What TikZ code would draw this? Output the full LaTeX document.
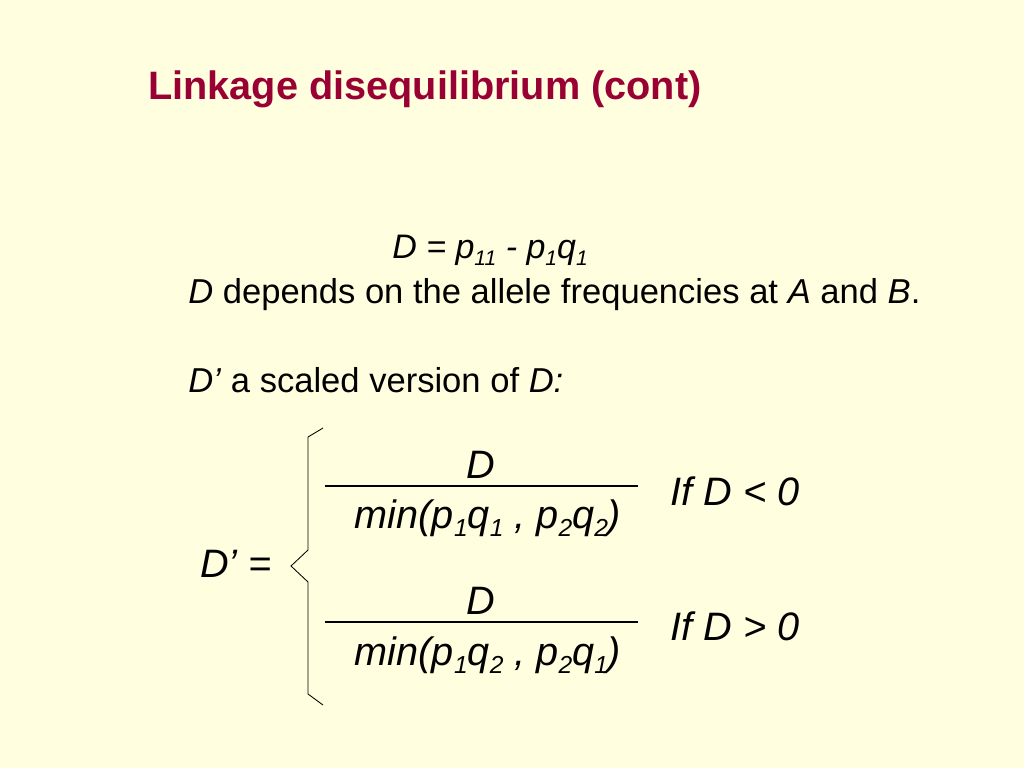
\documentclass[tikz,border=0pt]{standalone}
\usepackage{fontspec}
\setmainfont{Liberation Sans}
\usepackage{xcolor}
\usepackage{tikz}

\definecolor{slidebg}{HTML}{FFFFE0}
\definecolor{titlered}{HTML}{990033}
\newcommand{\idx}[1]{\raisebox{-0.42ex}{\scalebox{0.62}{#1}}}

\begin{document}
\begin{tikzpicture}[x=0.0248046875cm, y=-0.0248046875cm,
    titletext/.style={anchor=base west, inner sep=0pt, text=titlered, font=\fontsize{28}{34}\selectfont\bfseries},
    bodytext/.style={anchor=base west, inner sep=0pt, font=\fontsize{24.4}{29}\selectfont},
    bigtext/.style={anchor=base west, inner sep=0pt, font=\fontsize{28}{34}\selectfont\itshape},
    fractext/.style={anchor=base, inner sep=0pt, font=\fontsize{28}{34}\selectfont\itshape},
    fracbar/.style={line width=0.8pt},
    bracket/.style={line width=0.6pt, line join=miter}]
                \fill [slidebg] (0,0) rectangle (1024,768);
                \useasboundingbox (0,0) rectangle (1024,768);
                \node [titletext] (title) at (148,100) {Linkage disequilibrium (cont)};
                \node [bodytext, font=\fontsize{24}{29}\selectfont\itshape] (dformula) at (392,258)
                    {D = p\idx{11} - p\idx{1}q\idx{1}};
                \node [bodytext] (depends) at (188,303)
                    {\textit{D} depends on the allele frequencies at \textit{A} and \textit{B}.};
                \node [bodytext] (scaled) at (188,392) {\textit{D’} a scaled version of \textit{D:}};
                \node [bigtext] (dprime) at (200,577) {D’ =};
                % upper case
                \node [fractext] (numa) at (481,478) {D};
                \node [fractext] (dena) at (488,528)
                    {min(p\idx{1}q\idx{1} , p\idx{2}q\idx{2})};
                \coordinate (bara) at (325,486);
                \coordinate (bara end) at (638,486);
                \draw [fracbar] (bara) -- (bara end);
                \node [bigtext] (conda) at (670,505) {If D < 0};
                % lower case
                \node [fractext] (numb) at (481,614) {D};
                \node [fractext] (denb) at (488,665)
                    {min(p\idx{1}q\idx{2} , p\idx{2}q\idx{1})};
                \coordinate (barb) at (325,622);
                \coordinate (barb end) at (638,622);
                \draw [fracbar] (barb) -- (barb end);
                \node [bigtext] (condb) at (670,640) {If D > 0};
                % brace
                \draw [bracket] (323,428) -- (308,437) -- (308,550) -- (291,566)
                    -- (308,582) -- (308,694) -- (323,705);
            \end{tikzpicture}
\end{document}
